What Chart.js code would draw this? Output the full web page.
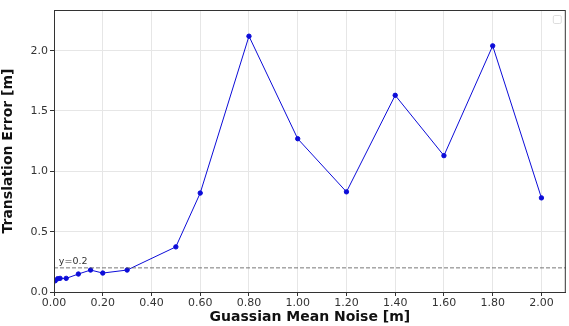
<!DOCTYPE html>
<html>
<head>
<meta charset="utf-8">
<script src="https://cdn.jsdelivr.net/npm/chart.js@4.4.1/dist/chart.umd.min.js"></script>
<style>
  html, body { margin: 0; padding: 0; background: #fff; }
  #wrap { width: 569px; height: 326px; }
</style>
</head>
<body>
<div id="wrap"><canvas id="c" width="569" height="326"></canvas></div>
<script>
// noise levels [m] and measured translation error [m]
const noise = [0.005, 0.015, 0.025, 0.05, 0.1, 0.15, 0.2, 0.3, 0.5, 0.6, 0.8, 1.0, 1.2, 1.4, 1.6, 1.8, 2.0];
const error = [0.093, 0.11, 0.113, 0.113, 0.149, 0.182, 0.157, 0.182, 0.374, 0.82, 2.12, 1.27, 0.83, 1.63, 1.13, 2.04, 0.78];
const threshold = 0.2;
const thresholdLabel = "y=0.2";
const xTicks = [0, 0.2, 0.4, 0.6, 0.8, 1.0, 1.2, 1.4, 1.6, 1.8, 2.0];
const yTicks = [0, 0.5, 1.0, 1.5, 2.0];

const FONT = "DejaVu Sans";

// dashed reference line, its label, frame and the empty legend box
const extras = {
  id: "extras",
  afterDatasetsDraw(chart) {
    const { ctx, chartArea: a, scales: { x, y } } = chart;
    const yy = y.getPixelForValue(threshold);
    ctx.save();
    ctx.strokeStyle = "#555";
    ctx.lineWidth = 0.8;
    ctx.setLineDash([4, 2]);
    ctx.beginPath();
    ctx.moveTo(a.left, yy);
    ctx.lineTo(a.right, yy);
    ctx.stroke();
    ctx.setLineDash([]);
    ctx.fillStyle = "#333";
    ctx.font = `9.5px "${FONT}"`;
    ctx.textBaseline = "bottom";
    ctx.fillText(thresholdLabel, x.getPixelForValue(0.02), yy - 2);

    ctx.strokeStyle = "#333";
    ctx.lineWidth = 1;
    ctx.strokeRect(a.left + 0.5, a.top + 0.5, a.right - a.left - 1, a.bottom - a.top);

    ctx.strokeStyle = "#ddd";
    ctx.beginPath();
    ctx.roundRect(a.right - 12.5, a.top + 5.5, 8, 8, 1.5);
    ctx.stroke();
    ctx.restore();
  }
};

new Chart(document.getElementById("c"), {
  type: "scatter",
  data: {
    datasets: [{
      data: noise.map((v, i) => ({ x: v, y: error[i] })),
      showLine: true,
      borderColor: "#0c0cd8",
      backgroundColor: "#0c0cd8",
      borderWidth: 1,
      pointRadius: 2.2,
      pointHoverRadius: 2.2
    }]
  },
  options: {
    responsive: false,
    animation: false,
    layout: { padding: { top: 10, right: -1.1, left: 0, bottom: 0 } },
    plugins: { legend: { display: false }, tooltip: { enabled: false } },
    scales: {
      x: {
        type: "linear",
        min: 0, max: 2.1,
        afterBuildTicks: s => { s.ticks = xTicks.map(v => ({ value: v })); },
        afterFit: s => { s.height = 34; s.paddingLeft = 0; s.paddingRight = 0; },
        ticks: {
          callback: v => v.toFixed(2),
          color: "#333", font: { family: FONT, size: 11 }, padding: 1, maxRotation: 0
        },
        grid: { color: "#e6e6e6", tickColor: "#333", tickLength: 4 },
        border: { display: true, color: "#333" },
        title: {
          display: true, text: "Guassian Mean Noise [m]", color: "#111",
          font: { family: FONT, size: 14, weight: "bold" }, padding: { top: 0, bottom: 0 }
        }
      },
      y: {
        min: 0, max: 2.337,
        afterBuildTicks: s => { s.ticks = yTicks.map(v => ({ value: v })); },
        afterFit: s => { s.width = 54; s.paddingTop = 0; s.paddingBottom = 0; },
        ticks: {
          callback: v => v.toFixed(1),
          color: "#333", font: { family: FONT, size: 11 }, padding: 2
        },
        grid: { color: "#e6e6e6", tickColor: "#333", tickLength: 4 },
        border: { display: true, color: "#333" },
        title: {
          display: true, text: "Translation Error [m]", color: "#111",
          font: { family: FONT, size: 14, weight: "bold" }, padding: { top: 0, bottom: 4 }
        }
      }
    }
  },
  plugins: [extras]
});
</script>
</body>
</html>
